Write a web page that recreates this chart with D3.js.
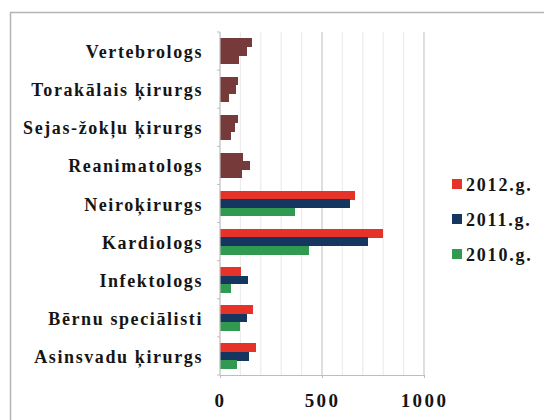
<!DOCTYPE html>
<html>
<head>
<style>
  body { margin: 0; background: #fff; }
</style>
</head>
<body>
<svg width="544" height="420"></svg>
<script src="https://cdnjs.cloudflare.com/ajax/libs/d3/7.8.5/d3.min.js"></script>
<script>
// data, top row first
var categories = ["Vertebrologs", "Torakālais ķirurgs", "Sejas-žokļu ķirurgs", "Reanimatologs",
                  "Neiroķirurgs", "Kardiologs", "Infektologs", "Bērnu speciālisti", "Asinsvadu ķirurgs"];
var seriesNames = ["2012.g.", "2011.g.", "2010.g."];
var v2012 = [155, 90, 90, 111, 663, 797, 103, 160, 176];
var v2011 = [131, 78, 73, 147, 636, 724, 136, 131, 144];
var v2010 = [94, 46, 52, 106, 368, 438, 52, 99, 82];
var xTicks = [0, 500, 1000];

var svg = d3.select("svg");
var seriesVals = [v2012, v2011, v2010];
var colors = ["#e5332a", "#14365f", "#2f9a50"];
var brown = "#763a3b";
// the first four rows are drawn all in one colour in the original
var monoRows = categories.slice(0, 4);

function serif(sel, size, spacing) {
  sel.style("font-family", "'Liberation Serif', 'Times New Roman', serif")
    .style("font-weight", "bold")
    .style("font-size", size + "px")
    .style("letter-spacing", spacing + "px")
    .attr("fill", "#151515");
}

// outer frame
svg.append("rect")
  .attr("x", 10.5).attr("y", 12.5)
  .attr("width", 600).attr("height", 500)
  .attr("fill", "none").attr("stroke", "#b5b5b5").attr("stroke-width", 1.5);

var x = d3.scaleLinear().domain([0, 1000]).range([220, 424]);
var y0 = d3.scaleBand().domain(categories).range([32, 375]).paddingInner(0.34).paddingOuter(0.17);
var y1 = d3.scaleBand().domain(seriesNames).range([0, y0.bandwidth()]);

// grid
svg.append("g").selectAll("line")
  .data(d3.range(100, 1001, 100))
  .enter().append("line")
  .attr("x1", d => x(d)).attr("x2", d => x(d))
  .attr("y1", 32).attr("y2", 375)
  .attr("stroke", d => d % 500 === 0 ? "#c9c9c9" : "#ececec")
  .attr("stroke-width", 1.2);

// bars
var rows = svg.append("g").attr("shape-rendering", "crispEdges").selectAll("g")
  .data(categories)
  .enter().append("g")
  .attr("transform", d => "translate(0," + y0(d) + ")");

rows.selectAll("rect")
  .data((c, i) => seriesNames.map((s, j) => ({cat: c, s: s, j: j, v: seriesVals[j][i]})))
  .enter().append("rect")
  .attr("x", x(0))
  .attr("y", d => y1(d.s))
  .attr("width", d => x(d.v) - x(0))
  .attr("height", y1.bandwidth() + 0.4)
  .attr("fill", d => monoRows.indexOf(d.cat) >= 0 ? brown : colors[d.j]);

// y axis
var yAxis = svg.append("g").attr("transform", "translate(" + x(0) + ",0)");
yAxis.append("line").attr("y1", 32).attr("y2", 375).attr("stroke", "#bdbdbd").attr("stroke-width", 1.2);
yAxis.selectAll(".tk")
  .data(d3.range(0, categories.length + 1))
  .enter().append("line")
  .attr("x1", -3).attr("x2", 0)
  .attr("y1", i => 32 + i * y0.step()).attr("y2", i => 32 + i * y0.step())
  .attr("stroke", "#bdbdbd");

svg.append("g").selectAll("text")
  .data(categories)
  .enter().append("text")
  .attr("x", 203)
  .attr("y", d => y0(d) + y0.bandwidth() / 2 + 7)
  .attr("text-anchor", "end")
  .text(d => d)
  .call(serif, 18, 1.6);

// x axis
var xAxis = svg.append("g").attr("transform", "translate(0,375)")
  .call(d3.axisBottom(x).tickValues(xTicks).tickSize(3).tickSizeOuter(0).tickFormat(d3.format("d")));
xAxis.select(".domain").attr("stroke", "#bdbdbd").attr("stroke-width", 1.2);
xAxis.selectAll(".tick line").attr("stroke", "#bdbdbd");
xAxis.selectAll(".tick text")
  .attr("y", 32).attr("dy", 0)
  .call(serif, 19, 2.4);

// legend
var leg = svg.append("g").selectAll("g")
  .data(seriesNames)
  .enter().append("g")
  .attr("transform", (d, i) => "translate(452," + (179 + i * 35) + ")");
leg.append("rect").attr("width", 10).attr("height", 10).attr("fill", (d, i) => colors[i]);
leg.append("text").attr("x", 14).attr("y", 11.5).text(d => d).call(serif, 18, 1.8);
</script>
</body>
</html>
